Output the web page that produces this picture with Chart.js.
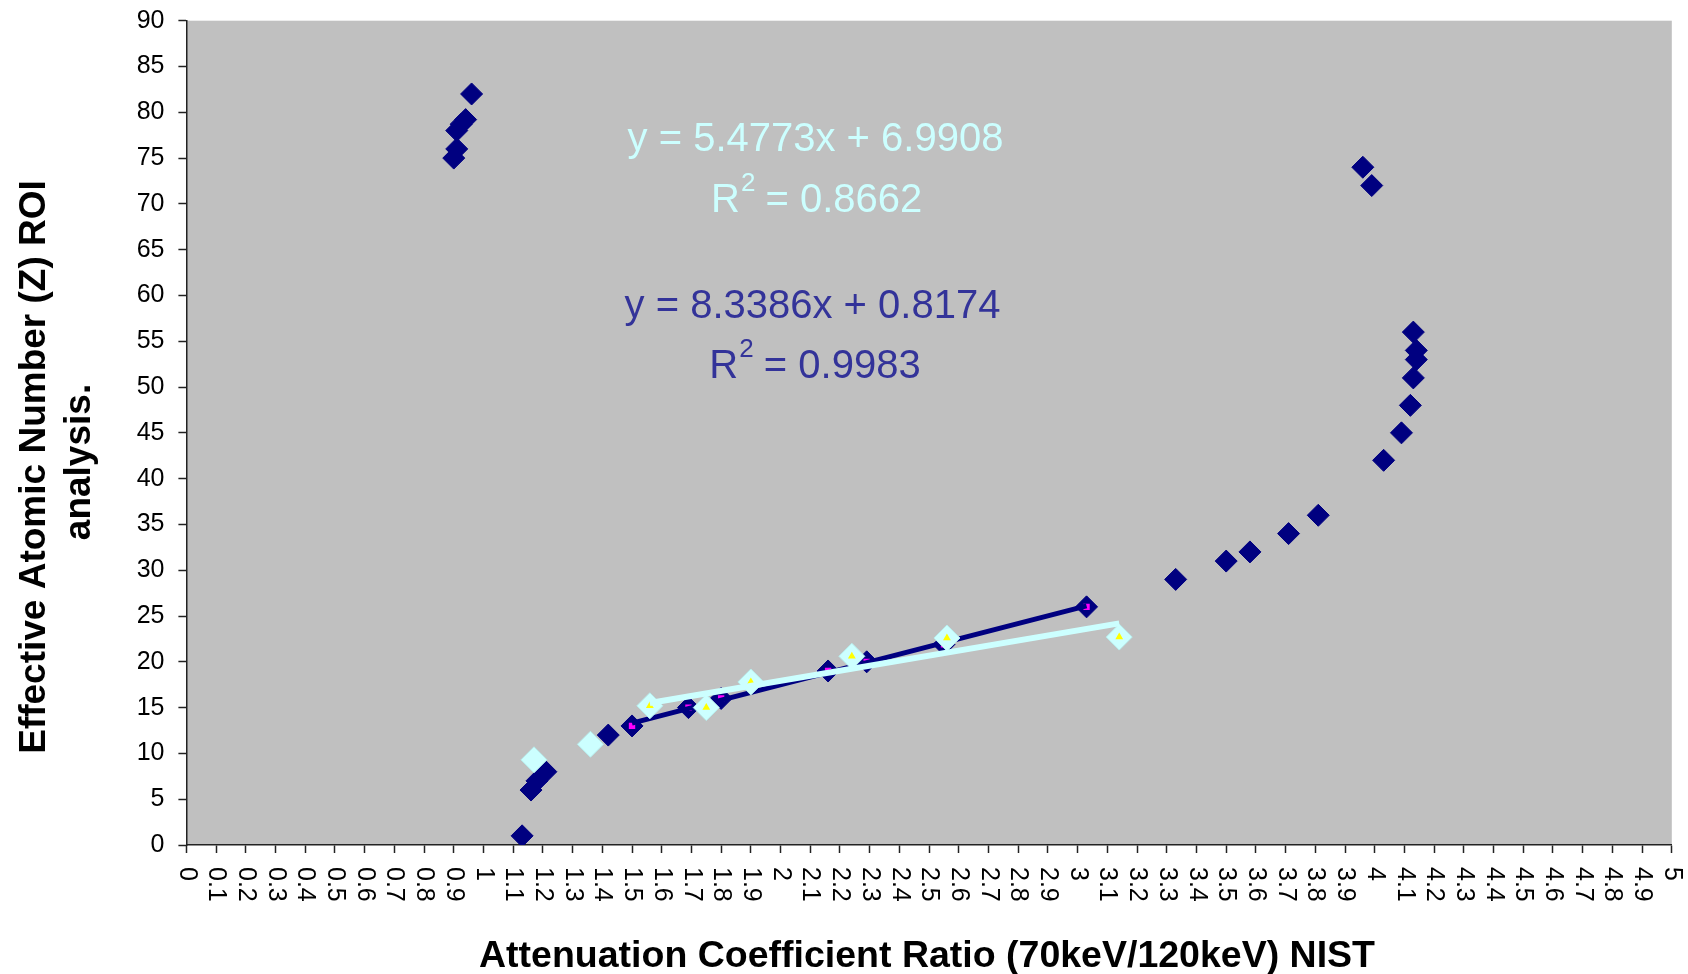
<!DOCTYPE html>
<html><head><meta charset="utf-8">
<script src="https://cdn.jsdelivr.net/npm/chart.js@4.4.1/dist/chart.umd.min.js"></script>
<style>html,body{margin:0;padding:0;background:#fff;}canvas{display:block;}</style>
</head><body>
<canvas id="c" width="1688" height="974"></canvas>
<script>
// ---- data ----
const darkX = [0.96,0.94,0.925,0.91,0.91,0.90, 1.13,1.16,1.18,1.21,1.42,1.50,1.69,1.80,2.16,2.29,2.55,3.03,3.33,3.50,3.58,3.71,3.81,4.03,4.09,4.12,4.13,4.14,4.14,4.13,3.96,3.99];
const darkY = [82,79.2,78.7,78,76,75, 1,6,7,8,12,13,15,16,19,20,21.9,26,29,31,32,34,36,42,45,48,51,53,54,56,74,72];
const lightX = [1.17,1.36,1.56,1.75,1.90,2.24,2.56,3.14];
const lightY = [9.3,11,15.2,15,17.8,20.6,22.6,22.7];
const magentaX = [1.50,1.69,1.80,2.16,2.29,2.55,3.03];
const magentaY = [13,15,16,19,20,21.9,26];
const yellowX = [1.56,1.75,1.90,2.24,2.56,3.14];
const yellowY = [15.2,15,17.8,20.6,22.6,22.7];
const darkTrendX = [1.50,3.03];
const darkTrendY = [13.3,26.1];
const lightTrendX = [1.56,3.14];
const lightTrendY = [15.5,24.2];
const xTickLabels = ["0","0.1","0.2","0.3","0.4","0.5","0.6","0.7","0.8","0.9","1","1.1","1.2","1.3","1.4","1.5","1.6","1.7","1.8","1.9","2","2.1","2.2","2.3","2.4","2.5","2.6","2.7","2.8","2.9","3","3.1","3.2","3.3","3.4","3.5","3.6","3.7","3.8","3.9","4","4.1","4.2","4.3","4.4","4.5","4.6","4.7","4.8","4.9","5"];
const yTickLabels = ["0","5","10","15","20","25","30","35","40","45","50","55","60","65","70","75","80","85","90"];
const lightEq = ["y = 5.4773x + 6.9908", " = 0.8662"];
const darkEq = ["y = 8.3386x + 0.8174", " = 0.9983"];
const xTitle = "Attenuation Coefficient Ratio (70keV/120keV) NIST";
const yTitle = ["Effective Atomic Number (Z) ROI", "analysis."];

const pts = (xs, ys) => xs.map((x, i) => ({x, y: ys[i]}));
const FONT = "'Liberation Sans', Arial, sans-serif";

const decor = {
  id: 'decor',
  beforeDraw(chart) {
    const {ctx, chartArea: a} = chart;
    ctx.save();
    ctx.fillStyle = '#C0C0C0';
    ctx.fillRect(a.left, a.top, a.right - a.left, a.bottom - a.top);
    ctx.restore();
  },
  afterDraw(chart) {
    const {ctx} = chart;
    const xs = chart.scales.x, ys = chart.scales.y;
    ctx.save();
    ctx.fillStyle = '#000';
    // y tick labels
    ctx.font = '25px ' + FONT;
    ctx.textAlign = 'right';
    ctx.textBaseline = 'middle';
    yTickLabels.forEach((lab, i) => {
      ctx.fillText(lab, 164.5, ys.getPixelForValue(i * 5));
    });
    // x tick labels rotated clockwise
    ctx.textAlign = 'left';
    xTickLabels.forEach((lab, i) => {
      const px = xs.getPixelForValue(i / 10);
      ctx.save();
      ctx.translate(px, 867);
      ctx.rotate(Math.PI / 2);
      ctx.fillText(lab, 0, 0);
      ctx.restore();
    });
    // x title
    ctx.font = 'bold 37.5px ' + FONT;
    ctx.textAlign = 'center';
    ctx.textBaseline = 'alphabetic';
    ctx.fillText(xTitle, 927, 967);
    // y title
    ctx.font = 'bold 37px ' + FONT;
    ctx.save();
    ctx.translate(45, 467);
    ctx.rotate(-Math.PI / 2);
    ctx.fillText(yTitle[0], 0, 0);
    ctx.restore();
    ctx.save();
    ctx.translate(90, 462);
    ctx.rotate(-Math.PI / 2);
    ctx.fillText(yTitle[1], 0, 0);
    ctx.restore();
    // equations
    const eq = (lines, color, cx1, y1, cx2, y2) => {
      ctx.fillStyle = color;
      ctx.font = '40px ' + FONT;
      ctx.textAlign = 'center';
      ctx.fillText(lines[0], cx1, y1);
      ctx.textAlign = 'left';
      const wR = ctx.measureText('R').width;
      const wRest = ctx.measureText(lines[1]).width;
      ctx.font = '26px ' + FONT;
      const w2 = ctx.measureText('2').width;
      const total = wR + w2 + wRest;
      let x = cx2 - total / 2;
      ctx.font = '40px ' + FONT;
      ctx.fillText('R', x, y2);
      x += wR;
      ctx.font = '26px ' + FONT;
      ctx.fillText('2', x + 1, y2 - 21);
      x += w2;
      ctx.font = '40px ' + FONT;
      ctx.fillText(lines[1], x, y2);
    };
    eq(lightEq, '#CCFFFF', 815.5, 150.7, 816.7, 211.7);
    eq(darkEq, '#333399', 812.5, 318.3, 815, 378.3);
    ctx.restore();
  }
};

// Chart.js paints dataset 0 last (on top), so the list runs from top layer to bottom layer
new Chart(document.getElementById('c'), {
  type: 'scatter',
  data: {
    datasets: [
      {data: pts(lightTrendX, lightTrendY), showLine: true, pointRadius: 0, borderColor: '#CCFFFF', borderWidth: 6},
      {data: pts(yellowX, yellowY), pointStyle: 'triangle', pointRadius: 4.5, backgroundColor: '#FFFF00', borderColor: '#FFFF00', borderWidth: 0},
      {data: pts(lightX, lightY), pointStyle: 'rectRot', pointRadius: 13, backgroundColor: '#CCFFFF', borderColor: '#B8EEEE', borderWidth: 1},
      {data: pts(darkTrendX, darkTrendY), showLine: true, pointRadius: 0, borderColor: '#000080', borderWidth: 5},
      {data: pts(magentaX, magentaY), pointStyle: 'rect', pointRadius: 4.5, backgroundColor: '#FF00FF', borderColor: '#FF00FF', borderWidth: 0},
      {data: pts(darkX, darkY), pointStyle: 'rectRot', pointRadius: 11, backgroundColor: '#000080', borderColor: '#000080', borderWidth: 1}
    ]
  },
  options: {
    responsive: false,
    animation: false,
    devicePixelRatio: 1,
    layout: {padding: {left: 0, right: 16.2, top: 20.7, bottom: 0}},
    plugins: {legend: {display: false}, tooltip: {enabled: false}},
    scales: {
      x: {
        type: 'linear', min: 0, max: 5,
        ticks: {stepSize: 0.1, display: false},
        grid: {drawOnChartArea: false, drawTicks: true, tickLength: 8, tickColor: '#222', tickWidth: 1.5},
        border: {display: true, color: '#222', width: 1.5},
        afterFit(s) { s.height = 129; }
      },
      y: {
        type: 'linear', min: 0, max: 90,
        ticks: {stepSize: 5, display: false},
        grid: {drawOnChartArea: false, drawTicks: true, tickLength: 8, tickColor: '#222', tickWidth: 1.5},
        border: {display: true, color: '#222', width: 1.5},
        afterFit(s) { s.width = 186.4; }
      }
    }
  },
  plugins: [decor]
});
</script>
</body></html>
